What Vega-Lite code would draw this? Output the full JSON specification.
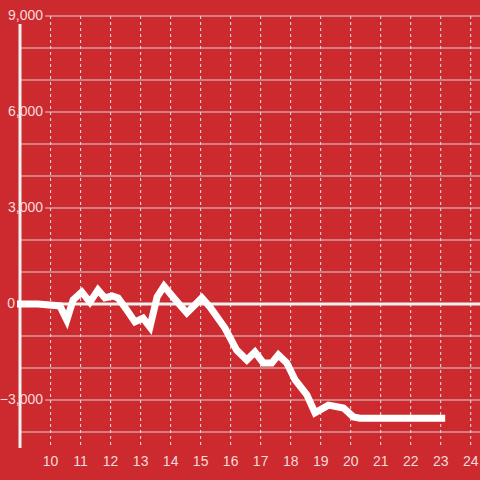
{
  "$schema": "https://vega.github.io/schema/vega-lite/v6.json",
  "width": 460,
  "height": 432,
  "autosize": "none",
  "padding": {"left": 20, "top": 16, "right": 0, "bottom": 32},
  "background": "#cc2a2f",
  "config": {
    "view": {"stroke": null},
    "font": "Liberation Sans"
  },
  "datasets": {
    "series": [
      {"t": 8.88, "v": 0},
      {"t": 9.58, "v": 0},
      {"t": 10.31, "v": -60},
      {"t": 10.54, "v": -500},
      {"t": 10.75, "v": 125},
      {"t": 11.04, "v": 375},
      {"t": 11.31, "v": 60},
      {"t": 11.58, "v": 440},
      {"t": 11.81, "v": 190},
      {"t": 12.05, "v": 250},
      {"t": 12.25, "v": 190},
      {"t": 12.54, "v": -190},
      {"t": 12.81, "v": -560},
      {"t": 13.08, "v": -440},
      {"t": 13.31, "v": -720},
      {"t": 13.55, "v": 220},
      {"t": 13.78, "v": 560},
      {"t": 14.08, "v": 220},
      {"t": 14.54, "v": -280},
      {"t": 15.04, "v": 190},
      {"t": 15.31, "v": -90},
      {"t": 15.81, "v": -750},
      {"t": 16.2, "v": -1440},
      {"t": 16.54, "v": -1750},
      {"t": 16.81, "v": -1500},
      {"t": 17.09, "v": -1840},
      {"t": 17.37, "v": -1840},
      {"t": 17.59, "v": -1590},
      {"t": 17.87, "v": -1840},
      {"t": 18.15, "v": -2375},
      {"t": 18.54, "v": -2840},
      {"t": 18.81, "v": -3400},
      {"t": 19.26, "v": -3160},
      {"t": 19.76, "v": -3250},
      {"t": 20.09, "v": -3530},
      {"t": 20.31, "v": -3570},
      {"t": 23.15, "v": -3570}
    ],
    "grid": [
      {"g": -4000, "labeled": false},
      {"g": -3000, "labeled": true},
      {"g": -2000, "labeled": false},
      {"g": -1000, "labeled": false},
      {"g": 1000, "labeled": false},
      {"g": 2000, "labeled": false},
      {"g": 3000, "labeled": true},
      {"g": 4000, "labeled": false},
      {"g": 5000, "labeled": false},
      {"g": 6000, "labeled": true},
      {"g": 7000, "labeled": false},
      {"g": 8000, "labeled": false},
      {"g": 9000, "labeled": true}
    ],
    "hours": [
      {"h": 10}, {"h": 11}, {"h": 12}, {"h": 13}, {"h": 14},
      {"h": 15}, {"h": 16}, {"h": 17}, {"h": 18}, {"h": 19},
      {"h": 20}, {"h": 21}, {"h": 22}, {"h": 23}, {"h": 24}
    ],
    "zero": [{"v": 0, "label": "0"}]
  },
  "layer": [
    {
      "data": {"name": "hours"},
      "mark": {"type": "rule", "color": "#e6e6e6", "strokeWidth": 1, "strokeDash": [3, 3]},
      "encoding": {
        "x": {
          "field": "h",
          "type": "quantitative",
          "scale": {"domain": [8.98, 24.31], "nice": false, "zero": false},
          "axis": null
        },
        "y": {
          "datum": 9000,
          "type": "quantitative",
          "scale": {"domain": [-4500, 9000], "nice": false, "zero": false},
          "axis": null
        },
        "y2": {"datum": -4500}
      }
    },
    {
      "data": {"name": "hours"},
      "mark": {"type": "text", "align": "center", "baseline": "middle", "dy": 14, "fontSize": 14, "color": "#f6dada", "font": "Liberation Sans"},
      "encoding": {
        "x": {"field": "h", "type": "quantitative"},
        "y": {"datum": -4500, "type": "quantitative"},
        "text": {"field": "h", "type": "quantitative", "format": "d"}
      }
    },
    {
      "data": {"name": "grid"},
      "transform": [{"filter": "!datum.labeled"}],
      "mark": {"type": "rule", "color": "#d6d6d6", "strokeWidth": 1},
      "encoding": {
        "y": {"field": "g", "type": "quantitative"},
        "x": {"datum": 8.98, "type": "quantitative"},
        "x2": {"datum": 24.31}
      }
    },
    {
      "data": {"name": "grid"},
      "transform": [{"filter": "datum.labeled"}],
      "mark": {"type": "rule", "color": "#d6d6d6", "strokeWidth": 1},
      "encoding": {
        "y": {"field": "g", "type": "quantitative"},
        "x": {"datum": 9.82, "type": "quantitative"},
        "x2": {"datum": 24.31}
      }
    },
    {
      "data": {"values": [{}]},
      "mark": {"type": "rule", "color": "#f2f2f2", "strokeWidth": 3},
      "encoding": {
        "x": {"datum": 8.98, "type": "quantitative"},
        "y": {"datum": -4500, "type": "quantitative"},
        "y2": {"datum": 8750}
      }
    },
    {
      "data": {"name": "grid"},
      "transform": [{"filter": "datum.labeled"}],
      "mark": {"type": "text", "align": "right", "baseline": "middle", "dx": 23, "fontSize": 14, "color": "#f6dada", "font": "Liberation Sans"},
      "encoding": {
        "x": {"datum": 8.98, "type": "quantitative"},
        "y": {"field": "g", "type": "quantitative"},
        "text": {"field": "g", "type": "quantitative", "format": ","}
      }
    },
    {
      "data": {"values": [{}]},
      "mark": {"type": "rule", "color": "#f2f2f2", "strokeWidth": 3},
      "encoding": {
        "y": {"datum": 0, "type": "quantitative"},
        "x": {"datum": 8.98, "type": "quantitative"},
        "x2": {"datum": 24.31}
      }
    },
    {
      "data": {"name": "zero"},
      "mark": {"type": "text", "align": "right", "baseline": "middle", "dx": -5, "fontSize": 14, "color": "#f6dada", "font": "Liberation Sans"},
      "encoding": {
        "x": {"datum": 8.98, "type": "quantitative"},
        "y": {"field": "v", "type": "quantitative"},
        "text": {"field": "label"}
      }
    },
    {
      "data": {"name": "series"},
      "mark": {"type": "line", "color": "#ffffff", "strokeWidth": 7, "strokeJoin": "miter"},
      "encoding": {
        "x": {"field": "t", "type": "quantitative"},
        "y": {"field": "v", "type": "quantitative"}
      }
    }
  ]
}
